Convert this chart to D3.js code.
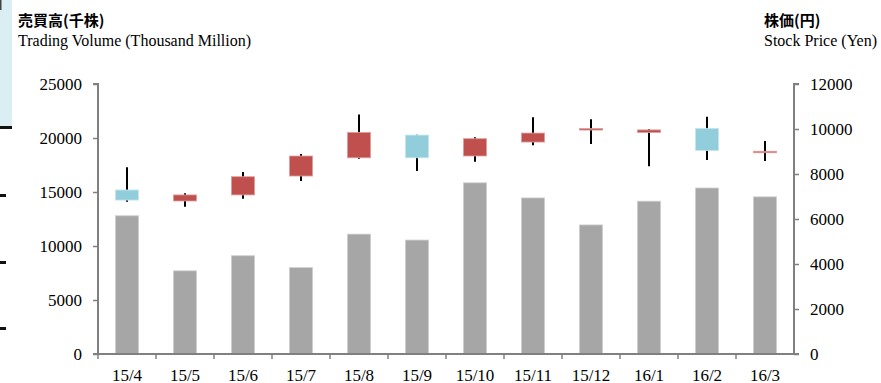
<!DOCTYPE html>
<html>
<head>
<meta charset="utf-8">
<script src="https://cdn.jsdelivr.net/npm/d3@7"></script>
<style>
body { margin: 0; background: #fff; }
svg { display: block; }
</style>
</head>
<body>
<svg id="mainSVG" width="881" height="383"></svg>
<script>
// data
var months = ["15/4","15/5","15/6","15/7","15/8","15/9","15/10","15/11","15/12","16/1","16/2","16/3"];
var volume = [12800, 7700, 9100, 8000, 11100, 10550, 15850, 14450, 11950, 14150, 15370, 14550];
var open  = [7290, 6800, 7070, 7910, 8720, 9730, 8800, 9420, 10000, 9840, 10030, 9000];
var close = [6840, 7070, 7880, 8800, 9850, 8720, 9570, 9820, 10020, 9960, 9040, 9010];
var high  = [8300, 7140, 8090, 8890, 10640, 9750, 9630, 10520, 10430, 9990, 10550, 9470];
var low   = [6770, 6550, 6900, 7690, 8680, 8130, 8550, 9280, 9330, 8340, 8620, 8580];
var volTicks = [0, 5000, 10000, 15000, 20000, 25000];
var priceTicks = [0, 2000, 4000, 6000, 8000, 10000, 12000];

var svg = d3.select("#mainSVG");
var plotLeft = 98, plotRight = 794, plotTop = 84, plotBottom = 354;
var serif = "Liberation Serif";
var cjk = "Noto Sans CJK JP";

// leftover strip on the left edge
svg.append("rect").attr("x", 0).attr("y", 0).attr("width", 12).attr("height", 127).attr("fill", "#daeef3");
svg.append("rect").attr("x", 0).attr("y", 0).attr("width", 1.5).attr("height", 10).attr("fill", "#444");
svg.append("rect").attr("x", 0).attr("y", 126).attr("width", 12).attr("height", 3).attr("fill", "#111");
[194, 261, 327].forEach(function(y) {
  svg.append("rect").attr("x", 0).attr("y", y).attr("width", 6).attr("height", 3).attr("fill", "#111");
});

var x = d3.scaleBand().domain(months).range([plotLeft, plotRight]);
var yVol = d3.scaleLinear().domain([0, 25000]).range([plotBottom, plotTop]);
var yPrice = d3.scaleLinear().domain([0, 12000]).range([plotBottom, plotTop]);
var bw = x.bandwidth() * 0.4;

// volume bars
svg.append("g").selectAll("rect").data(months).enter().append("rect")
  .attr("x", function(d) { return x(d) + x.bandwidth() / 2 - bw / 2; })
  .attr("y", function(d, i) { return yVol(volume[i]); })
  .attr("width", bw)
  .attr("height", function(d, i) { return plotBottom - yVol(volume[i]); })
  .attr("fill", "#a6a6a6")
  .attr("stroke", "#d0d0d0")
  .attr("stroke-width", 0.8);

// candles
var candles = svg.append("g").selectAll("g").data(months).enter().append("g");
candles.append("line")
  .attr("x1", function(d) { return x(d) + x.bandwidth() / 2; })
  .attr("x2", function(d) { return x(d) + x.bandwidth() / 2; })
  .attr("y1", function(d, i) { return yPrice(high[i]); })
  .attr("y2", function(d, i) { return yPrice(low[i]); })
  .attr("stroke", "#000")
  .attr("stroke-width", 2);
candles.append("rect")
  .attr("x", function(d) { return x(d) + x.bandwidth() / 2 - bw / 2; })
  .attr("y", function(d, i) { return yPrice(Math.max(open[i], close[i])); })
  .attr("width", bw)
  .attr("height", function(d, i) { return Math.max(1.5, Math.abs(yPrice(open[i]) - yPrice(close[i]))); })
  .attr("fill", function(d, i) { return close[i] >= open[i] ? "#c0504d" : "#92cddc"; })
  .attr("stroke", function(d, i) { return close[i] >= open[i] ? "#e0a09e" : "#c8e6ee"; })
  .attr("stroke-width", 0.8);

// axes
var axisColor = "#808080";
var gl = svg.append("g").attr("transform", "translate(" + plotLeft + ",0)")
  .call(d3.axisLeft(yVol).tickValues(volTicks).tickSize(5).tickPadding(11).tickFormat(d3.format("d")));
var gr = svg.append("g").attr("transform", "translate(" + plotRight + ",0)")
  .call(d3.axisRight(yPrice).tickValues(priceTicks).tickSize(5).tickPadding(11).tickFormat(d3.format("d")));
var gx = svg.append("g").attr("transform", "translate(0," + plotBottom + ")")
  .call(d3.axisBottom(x).tickSize(0).tickPadding(15));
// x ticks at band edges
svg.append("g").selectAll("line").data(months).enter().append("line")
  .attr("x1", function(d) { return x(d); }).attr("x2", function(d) { return x(d); })
  .attr("y1", plotBottom).attr("y2", plotBottom + 5)
  .attr("stroke", axisColor).attr("stroke-width", 1.5);

[gl, gr, gx].forEach(function(g) {
  g.attr("font-family", serif).attr("font-size", 17);
  g.select(".domain").attr("stroke", axisColor).attr("stroke-width", 2);
  g.selectAll(".tick line").attr("stroke", axisColor).attr("stroke-width", 1.5);
  g.selectAll(".tick text").attr("fill", "#000");
});
gl.select(".domain").attr("d", "M-5," + plotTop + "H0V" + plotBottom + "H-5");
gr.select(".domain").attr("d", "M5," + plotTop + "H0V" + plotBottom + "H5");
gx.select(".domain").attr("d", "M" + plotLeft + ",0H" + plotRight);

// titles
svg.append("text").attr("x", 18).attr("y", 26).text("売買高(千株)")
  .attr("font-family", cjk).attr("font-size", 15).attr("font-weight", 600).attr("fill", "#000");
svg.append("text").attr("x", 18).attr("y", 46).text("Trading Volume (Thousand Million)")
  .attr("font-family", serif).attr("font-size", 16).attr("fill", "#000");
svg.append("text").attr("x", 764).attr("y", 26).text("株価(円)")
  .attr("font-family", cjk).attr("font-size", 15).attr("font-weight", 600).attr("fill", "#000");
svg.append("text").attr("x", 764).attr("y", 46).text("Stock Price (Yen)")
  .attr("font-family", serif).attr("font-size", 16).attr("fill", "#000");
</script>
</body>
</html>
